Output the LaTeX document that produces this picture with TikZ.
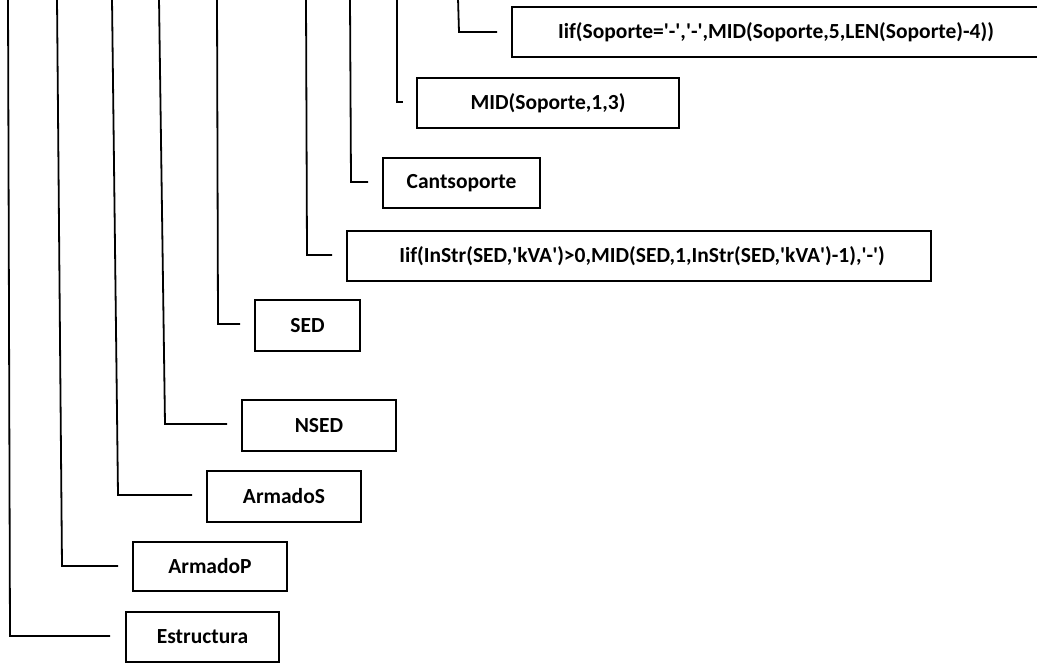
\documentclass[tikz,border=0pt]{standalone}
\usepackage{fontspec}
\setmainfont{Carlito}
\newcommand{\qq}{\textquotesingle}
\begin{document}
\begin{tikzpicture}[x=1pt,y=-1pt,
  fbox/.style={draw=black,line width=1.6pt,inner sep=0pt,font=\fontsize{21.5}{26}\selectfont\bfseries,text=black},
  conn/.style={draw=black,line width=1.8pt,line join=miter}]
\clip (0,0) rectangle (1037,664);
\fill[white] (0,0) rectangle (1037,664);
% boxes
\node[fbox,minimum width=528pt,minimum height=50pt] (A) at (776,32) {Iif(Soporte=\qq-\qq,\qq-\qq,MID(Soporte,5,LEN(Soporte)-4))};
\node[fbox,minimum width=262pt,minimum height=50pt] (B) at (548,103) {MID(Soporte,1,3)};
\node[fbox,minimum width=157pt,minimum height=50pt] (C) at (461.5,183) {Cantsoporte};
\node[fbox,minimum width=584pt,minimum height=50pt] (D) at (639,256) {\hspace*{6pt}Iif(InStr(SED,\qq kVA\qq)>0,MID(SED,1,InStr(SED,\qq kVA\qq)-1),\qq-\qq)};
\node[fbox,minimum width=105pt,minimum height=51pt] (E) at (307.5,325.5) {SED};
\node[fbox,minimum width=154pt,minimum height=51pt] (F) at (319,425.5) {NSED};
\node[fbox,minimum width=154pt,minimum height=51pt] (G) at (284,496.5) {ArmadoS};
\node[fbox,minimum width=154pt,minimum height=49pt] (H) at (210,566.5) {ArmadoP};
\node[fbox,minimum width=153pt,minimum height=50pt] (I) at (202.5,637) {Estructura};
% connector ends
\coordinate (tA) at (458,-2); \coordinate (cA) at (459,32);  \coordinate (eA) at (497,32);
\coordinate (tB) at (397,-2); \coordinate (cB) at (397,102); \coordinate (eB) at (403,102);
\coordinate (tC) at (350,-2); \coordinate (cC) at (351,182); \coordinate (eC) at (368,182);
\coordinate (tD) at (306,-2); \coordinate (cD) at (307,255); \coordinate (eD) at (332,255);
\coordinate (tE) at (217,-2); \coordinate (cE) at (218,324); \coordinate (eE) at (240,324);
\coordinate (tF) at (159,-2); \coordinate (cF) at (165,424); \coordinate (eF) at (227,424);
\coordinate (tG) at (112,-2); \coordinate (cG) at (118,495); \coordinate (eG) at (192,495);
\coordinate (tH) at (57,-2);  \coordinate (cH) at (62,566);  \coordinate (eH) at (118,566);
\coordinate (tI) at (8,-2);   \coordinate (cI) at (10,636);  \coordinate (eI) at (110,636);
\foreach \k in {A,B,C,D,E,F,G,H,I}{
  \draw[conn] (t\k) -- (c\k) -- (e\k);
}
\end{tikzpicture}
\end{document}
